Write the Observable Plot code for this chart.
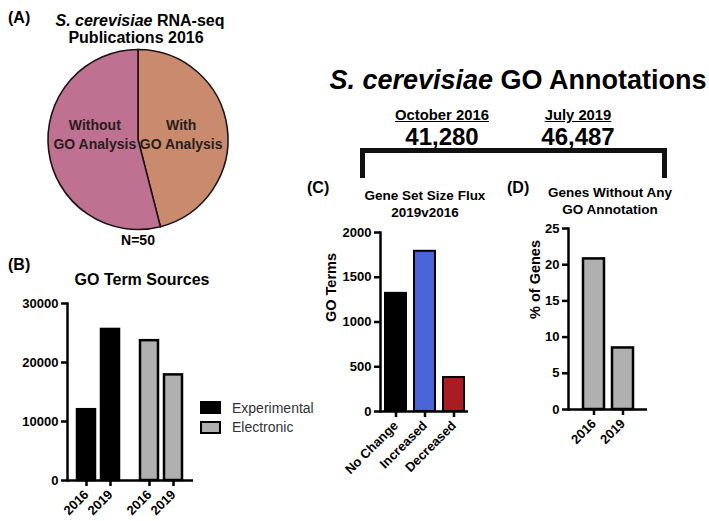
<!DOCTYPE html>
<html><head><meta charset="utf-8">
<script src="https://cdn.jsdelivr.net/npm/d3@7"></script>
<script src="https://cdn.jsdelivr.net/npm/@observablehq/plot@0.6"></script>
<style>
body{margin:0;background:#fff;}
#fig{position:relative;width:709px;height:521px;overflow:hidden;font-family:"Liberation Sans",Arial,Helvetica,sans-serif;color:#000;}
.t{position:absolute;white-space:nowrap;line-height:1;font-weight:bold;}
.abs{position:absolute;}
</style></head><body><div id="fig"></div>
<script>
// ---------- data ----------
const pieCategories = ["With GO Analysis", "Without GO Analysis"];
const pieCounts = [23, 27];
const pieLabelLines = [["With", "GO Analysis"], ["Without", "GO Analysis"]];
const pieColors = ["#c98a6e", "#be7190"];

const sourceGroups = ["Experimental", "Electronic"];
const sourceYears = ["2016", "2019"];
const experimentalTerms = [12000, 25600];
const electronicTerms = [23700, 17900];
const sourceColors = ["#000000", "#b0b0b0"];
const sourceTicks = [0, 10000, 20000, 30000];

const fluxCategories = ["No Change", "Increased", "Decreased"];
const fluxCounts = [1320, 1790, 380];
const fluxColors = ["#000000", "#4a63d6", "#a81c22"];
const fluxTicks = [0, 500, 1000, 1500, 2000];

const unannotatedYears = ["2016", "2019"];
const unannotatedPct = [20.8, 8.5];
const unannotatedTicks = [0, 5, 10, 15, 20, 25];

const annotationDates = ["October 2016", "July 2019"];
const annotationTotals = [41280, 46487];

// ---------- helpers ----------
const FONT = '"Liberation Sans", Arial, Helvetica, sans-serif';
const fig = document.getElementById("fig");
function txt(html, o) {
  const d = document.createElement("div");
  d.className = "t";
  d.innerHTML = html;
  const size = o.size || 16;
  d.style.fontSize = size + "px";
  if (o.weight) d.style.fontWeight = o.weight;
  if (o.color) d.style.color = o.color;
  d.style.top = (o.cy - size * 0.5) + "px";
  if (o.cx !== undefined) {
    d.style.left = (o.cx - 200) + "px";
    d.style.width = "400px";
    d.style.textAlign = "center";
  } else {
    d.style.left = o.left + "px";
  }
  if (o.underline) d.style.textDecoration = "underline";
  fig.appendChild(d);
  return d;
}
function place(node, left, top) {
  node.style.position = "absolute";
  node.style.left = left + "px";
  node.style.top = top + "px";
  fig.appendChild(node);
}
const svgStyle = {fontFamily: FONT, background: "transparent", color: "#000", overflow: "visible"};

// ---------- Panel A: pie ----------
const pieData = pieCategories.map((c, i) => ({category: c, count: pieCounts[i], lines: pieLabelLines[i]}));
const pieColor = Plot.scale({color: {type: "ordinal", domain: pieCategories, range: pieColors}});
const piePlot = Plot.plot({
  width: 280, height: 200, margin: 0, style: svgStyle,
  marks: [
    (index, scales, values, dims) => {
      const cx = 138, cy = 99.5, r = 90;
      const arcs = d3.pie().sort(null).value(d => d.count)(pieData);
      const arc = d3.arc().innerRadius(0).outerRadius(r);
      const labelArc = d3.arc().innerRadius(0).outerRadius(87);
      const g = d3.create("svg:g").attr("transform", `translate(${cx},${cy})`);
      g.selectAll("path").data(arcs).join("path")
        .attr("d", arc)
        .attr("fill", d => pieColor.apply(d.data.category))
        .attr("stroke", "#1c1414").attr("stroke-width", 1.6);
      const t = g.selectAll("text").data(arcs).join("text")
        .attr("transform", d => `translate(${labelArc.centroid(d)[0]},-5)`)
        .attr("text-anchor", "middle")
        .attr("font-size", 14).attr("font-weight", "bold").attr("fill", "#2a1c1c");
      t.selectAll("tspan").data(d => d.data.lines.map((l, i) => ({l, i}))).join("tspan")
        .attr("x", 0).attr("y", d => (d.i === 0 ? -9.5 : 9.5)).attr("dy", "0.36em")
        .text(d => d.l);
      return g.node();
    }
  ]
});
place(piePlot, 0, 40);
txt("(A)", {left: 8, cy: 18, size: 16});
txt("<i>S. cerevisiae</i> RNA-seq", {cx: 140, cy: 21, size: 16});
txt("Publications 2016", {cx: 136, cy: 38, size: 16});
txt("N=" + d3.sum(pieCounts), {cx: 138, cy: 240, size: 14});

// ---------- Panel B: GO term sources ----------
const sourceData = [];
sourceGroups.forEach((g, gi) => sourceYears.forEach((y, yi) =>
  sourceData.push({source: g, year: y, terms: (gi === 0 ? experimentalTerms : electronicTerms)[yi]})));
const plotB = Plot.plot({
  width: 200, height: 231, marginLeft: 67, marginRight: 7, marginTop: 13, marginBottom: 41,
  style: svgStyle,
  fx: {domain: sourceGroups, axis: null, padding: 0},
  x: {domain: sourceYears, paddingInner: 0.245, paddingOuter: 0.41},
  y: {domain: [0, 30000]},
  color: {domain: sourceGroups, range: sourceColors},
  marks: [
    Plot.barY(sourceData, {fx: "source", x: "year", y: "terms", fill: "source", stroke: "#000", strokeWidth: 2.5}),
    Plot.ruleY([0], {strokeWidth: 2.5}),
    Plot.frame({anchor: "left", strokeWidth: 2.5, facetAnchor: "left"}),
    Plot.axisY({ticks: sourceTicks, tickFormat: d3.format("d"), tickSize: 6, strokeWidth: 2.5, fontSize: 13, fontWeight: "bold", label: null}),
    Plot.axisX({tickRotate: -45, tickSize: 6, strokeWidth: 2.5, fontSize: 13, fontWeight: "bold", label: null})
  ]
});
place(plotB, 0, 290);
txt("(B)", {left: 8, cy: 265, size: 16});
txt("GO Term Sources", {cx: 142, cy: 280, size: 16});
// legend
sourceGroups.forEach((g, i) => {
  const box = document.createElement("div");
  box.className = "abs";
  box.style.cssText += `left:200px;top:${401 + i * 19.5}px;width:17px;height:9px;border:2px solid #000;background:${sourceColors[i]};`;
  fig.appendChild(box);
  txt(g, {left: 232, cy: 408 + i * 19, size: 14, weight: "normal", color: "#333"});
});

// ---------- Header ----------
txt("<i>S. cerevisiae</i> GO Annotations", {cx: 518, cy: 80, size: 27});
const headerX = [442, 578];
annotationDates.forEach((d, i) => {
  txt(d, {cx: headerX[i], cy: 115, size: 14.8, underline: true});
  txt(d3.format(",")(annotationTotals[i]), {cx: headerX[i], cy: 137, size: 24});
});
const bracket = document.createElement("div");
bracket.className = "abs";
bracket.style.cssText += "left:360px;top:148px;width:297px;height:25px;border:5px solid #111;border-bottom:none;";
fig.appendChild(bracket);

// ---------- Panel C: gene set size flux ----------
const fluxData = fluxCategories.map((c, i) => ({change: c, terms: fluxCounts[i]}));
const plotC = Plot.plot({
  width: 180, height: 270, marginLeft: 80, marginRight: 12, marginTop: 12, marginBottom: 79,
  style: svgStyle,
  x: {domain: fluxCategories, paddingInner: 0.29, paddingOuter: 0.136},
  y: {domain: [0, 2000]},
  color: {domain: fluxCategories, range: fluxColors},
  marks: [
    Plot.barY(fluxData, {x: "change", y: "terms", fill: "change", stroke: "#000", strokeWidth: 2}),
    Plot.ruleY([0], {strokeWidth: 2.5}),
    Plot.frame({anchor: "left", strokeWidth: 2.5}),
    Plot.axisY({ticks: fluxTicks, tickSize: 6, strokeWidth: 2.5, fontSize: 13, fontWeight: "bold", label: null, tickFormat: d3.format("d")}),
    Plot.axisX({tickRotate: -45, tickSize: 6, strokeWidth: 2.5, fontSize: 13, fontWeight: "bold", label: null}),
    Plot.text(["GO Terms"], {text: d => d, frameAnchor: "left", rotate: -90, dx: -49, fontSize: 14.5, fontWeight: "bold"})
  ]
});
place(plotC, 300, 220);
txt("(C)", {left: 307, cy: 188, size: 16});
txt("Gene Set Size Flux", {cx: 425, cy: 196, size: 13.5});
txt("2019v2016", {cx: 425, cy: 212.5, size: 13.5});

// ---------- Panel D: genes without annotation ----------
const unannotData = unannotatedYears.map((y, i) => ({year: y, pct: unannotatedPct[i]}));
const plotD = Plot.plot({
  width: 160, height: 270, marginLeft: 68, marginRight: 13, marginTop: 13, marginBottom: 76,
  style: svgStyle,
  x: {domain: unannotatedYears, paddingInner: 0.28, paddingOuter: 0.46},
  y: {domain: [0, 25]},
  marks: [
    Plot.barY(unannotData, {x: "year", y: "pct", fill: "#b0b0b0", stroke: "#000", strokeWidth: 2.5}),
    Plot.ruleY([0], {strokeWidth: 2.5}),
    Plot.frame({anchor: "left", strokeWidth: 2.5}),
    Plot.axisY({ticks: unannotatedTicks, tickSize: 6, strokeWidth: 2.5, fontSize: 13, fontWeight: "bold", label: null}),
    Plot.axisX({tickRotate: -45, tickSize: 6, strokeWidth: 2.5, fontSize: 13, fontWeight: "bold", label: null}),
    Plot.text(["% of Genes"], {text: d => d, frameAnchor: "left", rotate: -90, dx: -33, fontSize: 14.5, fontWeight: "bold"})
  ]
});
place(plotD, 500, 215);
txt("(D)", {left: 507, cy: 188, size: 16});
txt("Genes Without Any", {cx: 610, cy: 192.5, size: 13.5});
txt("GO Annotation", {cx: 610, cy: 210, size: 13.5});
</script></body></html>
